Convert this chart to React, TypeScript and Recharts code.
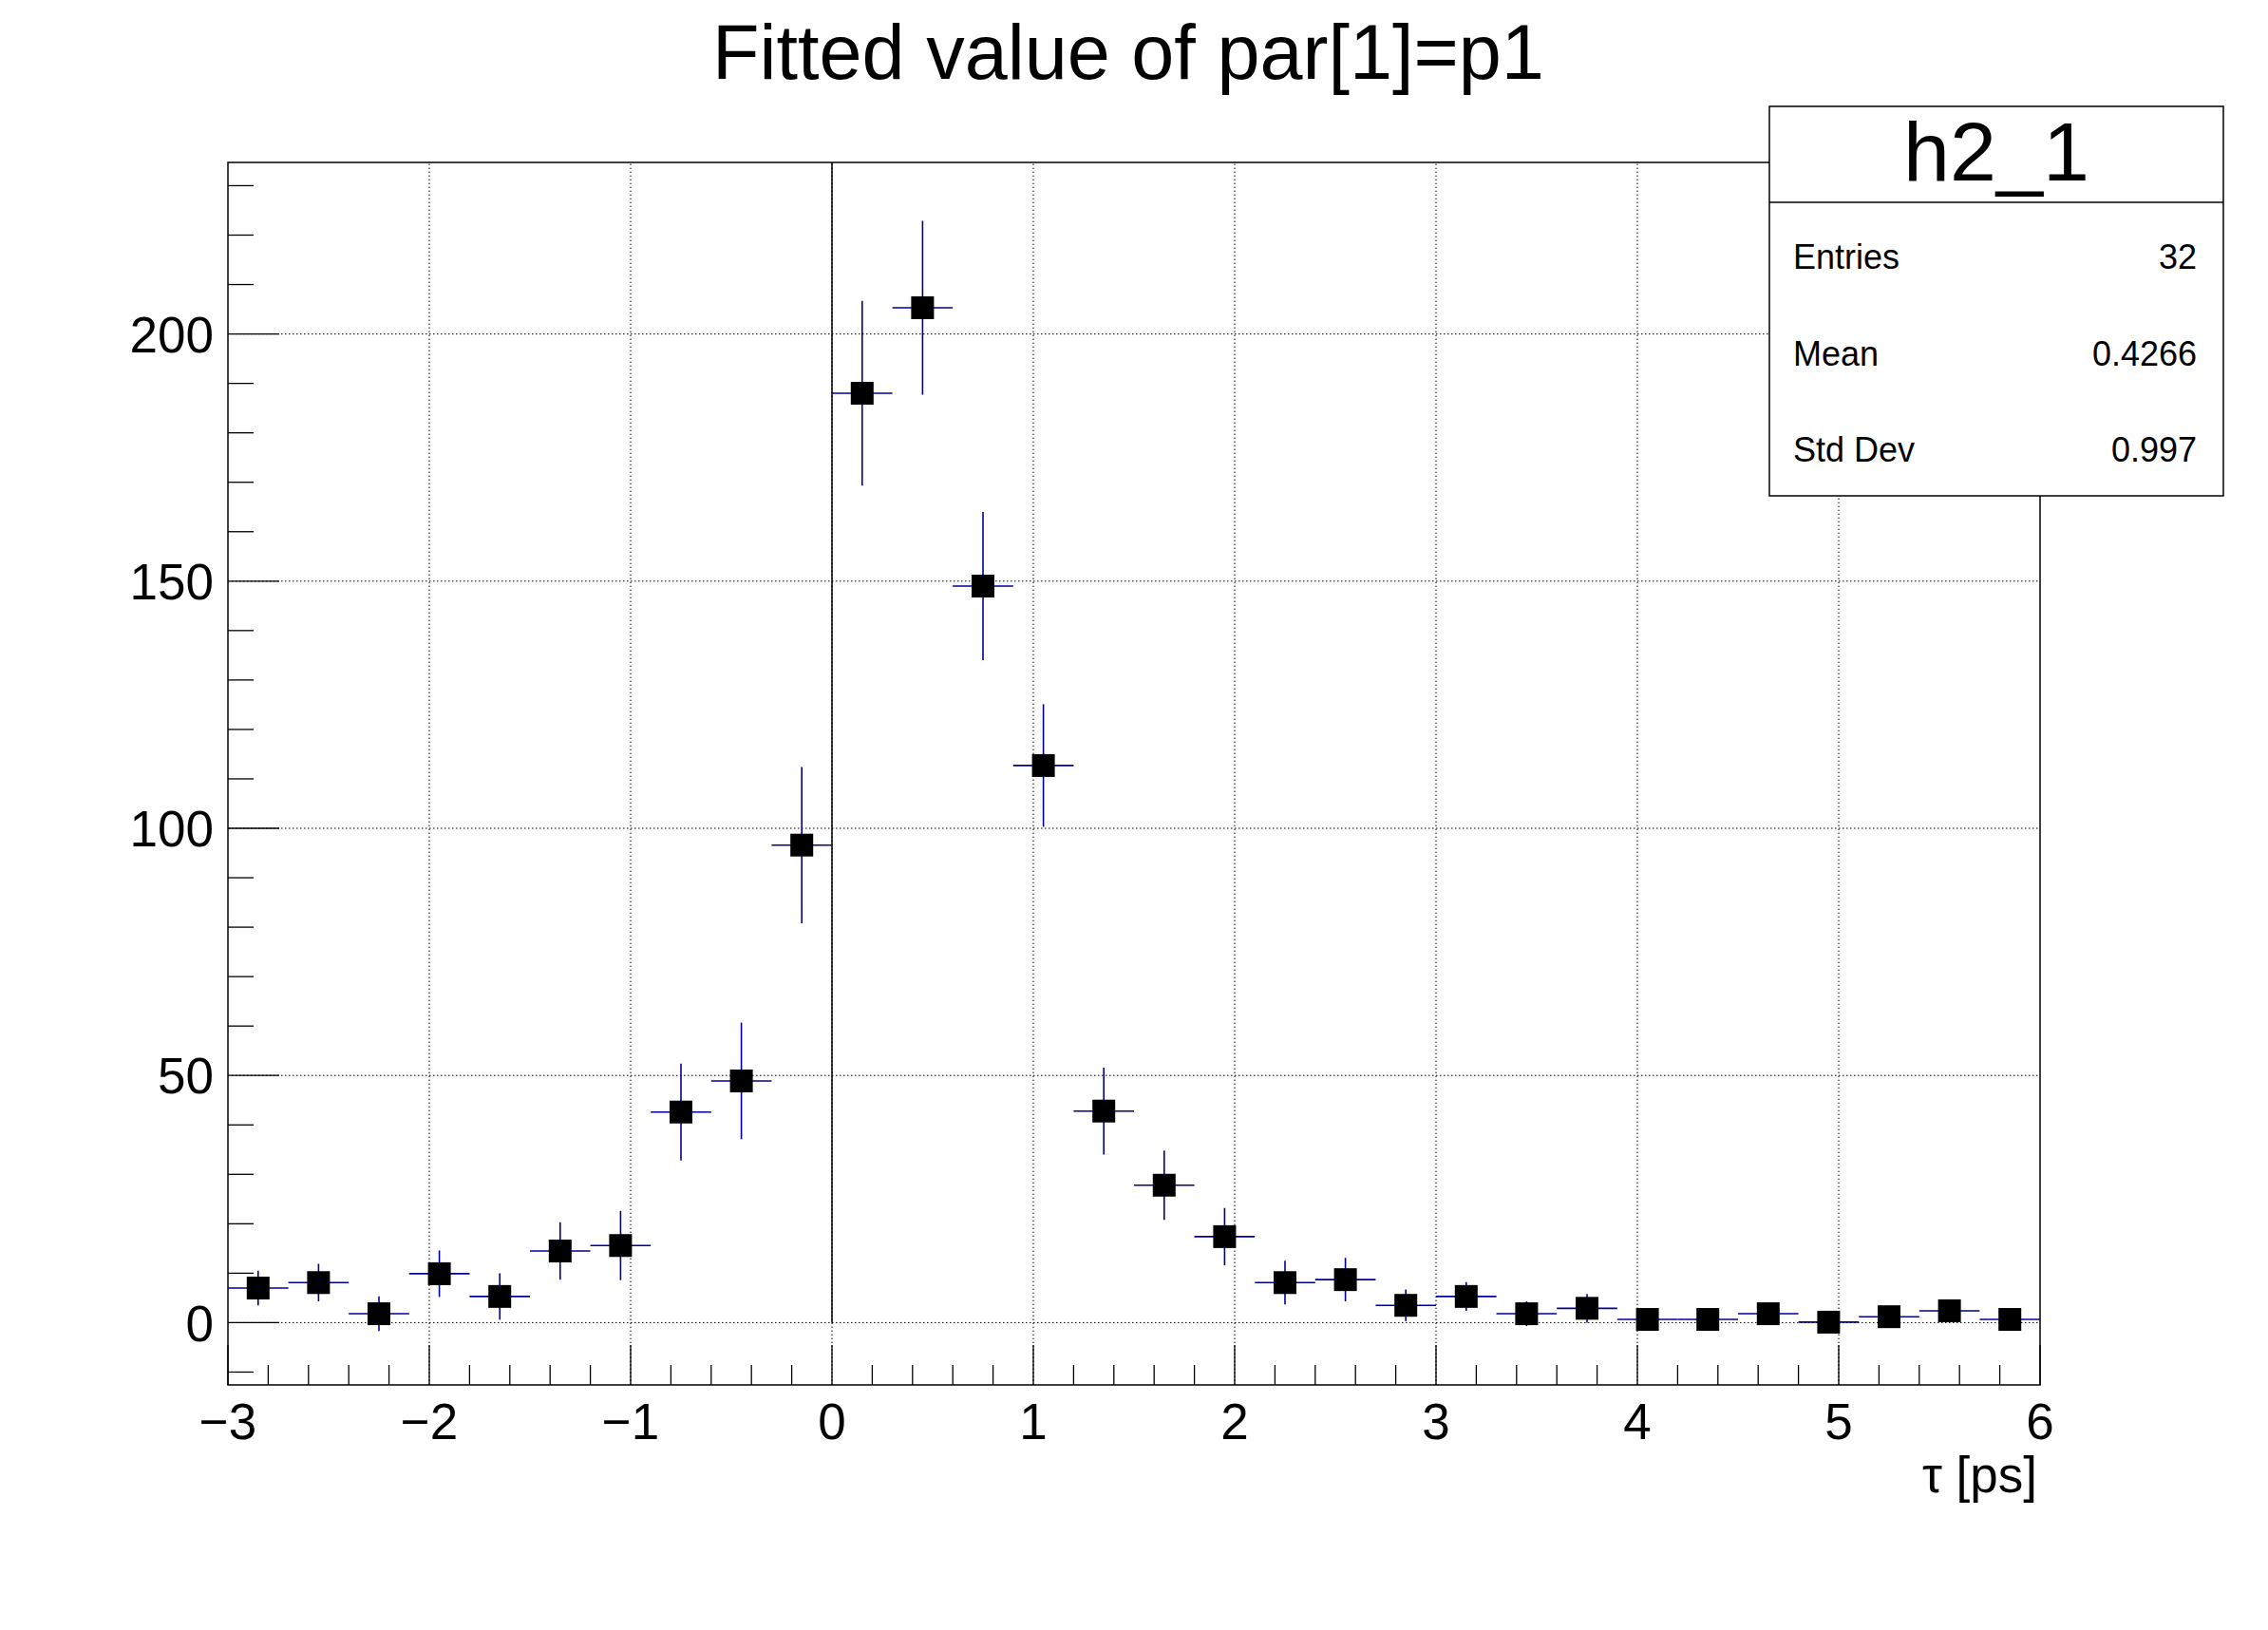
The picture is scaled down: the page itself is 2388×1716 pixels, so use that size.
import React from "react";
import {
  ComposedChart,
  Scatter,
  ErrorBar,
  XAxis,
  YAxis,
  ReferenceLine,
  ReferenceArea,
} from "recharts";

// histogram h2_1: 30 bins of 0.3 ps from -3 to 6
const binCenters = [
  -2.85, -2.55, -2.25, -1.95, -1.65, -1.35, -1.05, -0.75, -0.45, -0.15,
  0.15, 0.45, 0.75, 1.05, 1.35, 1.65, 1.95, 2.25, 2.55, 2.85,
  3.15, 3.45, 3.75, 4.05, 4.35, 4.65, 4.95, 5.25, 5.55, 5.85,
];
const binWidth = 0.3;
const counts = [
  7.0, 8.1, 1.8, 9.9, 5.3, 14.5, 15.6, 42.6, 48.9, 96.6,
  188.0, 205.3, 149.0, 112.7, 42.8, 27.8, 17.4, 8.1, 8.7, 3.5,
  5.3, 1.8, 2.9, 0.65, 0.65, 1.8, 0.1, 1.2, 2.4, 0.65,
];
const countErrors = [
  3.5, 3.8, 3.5, 4.7, 4.7, 5.8, 7.0, 9.8, 11.8, 15.8,
  18.7, 17.6, 15.0, 12.4, 8.8, 7.0, 5.8, 4.4, 4.4, 3.2,
  2.9, 2.5, 2.9, 1.0, 1.0, 1.5, 0.5, 1.0, 1.5, 1.0,
];

const xMajorTicks = [-3, -2, -1, 0, 1, 2, 3, 4, 5, 6];
const yMajorTicks = [0, 50, 100, 150, 200];
const xMinorStep = 0.2;
const yMinorStep = 10;
const xDomain: [number, number] = [-3, 6];
const yDomain: [number, number] = [-12.6, 234.7];

const statsTitle = "h2_1";
const statsLabels = ["Entries", "Mean", "Std Dev"];
const statsValues = ["32", "0.4266", "0.997"];

const title = "Fitted value of par[1]=p1";
const xTitle = "\u03c4 [ps]";

const FONT = "'Liberation Sans', Arial, Helvetica, sans-serif";
const ERR_COLOR = "#000099";

const data = binCenters.map((x, i) => ({
  x,
  y: counts[i],
  yerr: countErrors[i],
  xerr: binWidth / 2,
}));

// minor tick positions between the domain ends
const buildTicks = (lo: number, hi: number, step: number) => {
  const out: number[] = [];
  for (let v = lo; v <= hi + 1e-9; v += step) out.push(Math.round(v * 100) / 100);
  return out;
};
const xTicks = buildTicks(-3, 6, xMinorStep);
const yTicks = buildTicks(-10, 230, yMinorStep);

const fmt = (v: number) => (v < 0 ? "\u2212" + Math.abs(v) : String(v));
const isMajorX = (v: number) => xMajorTicks.some((t) => Math.abs(t - v) < 1e-6);
const isMajorY = (v: number) => yMajorTicks.some((t) => Math.abs(t - v) < 1e-6);

const XTick = (props: any) => {
  const { x, y, payload } = props;
  const major = isMajorX(payload.value);
  return (
    <g>
      <line x1={x} x2={x} y1={y} y2={y - (major ? 42 : 21)} stroke="#000" strokeWidth={1.3} />
      {major && (
        <text x={x} y={y + 57} textAnchor="middle" fontSize={53} fontFamily={FONT} fill="#000">
          {fmt(payload.value)}
        </text>
      )}
    </g>
  );
};

const YTick = (props: any) => {
  const { x, y, payload } = props;
  const major = isMajorY(payload.value);
  return (
    <g>
      <line x1={x} x2={x + (major ? 54 : 27)} y1={y} y2={y} stroke="#000" strokeWidth={1.3} />
      {major && (
        <text x={x - 15} y={y} dy="0.36em" textAnchor="end" fontSize={53} fontFamily={FONT} fill="#000">
          {fmt(payload.value)}
        </text>
      )}
    </g>
  );
};

const Square = (props: any) => {
  const { cx, cy } = props;
  return <rect x={cx - 12} y={cy - 12} width={24} height={24} fill="#000" />;
};

const App = () => {
  return (
    <div style={{ position: "absolute", left: 0, top: 0, width: 2388, height: 1716, background: "#fff" }}>
      <ComposedChart
        width={2388}
        height={1716}
        data={data}
        margin={{ top: 171, right: 240, bottom: 0, left: 0 }}
      >
        <XAxis
          type="number"
          dataKey="x"
          domain={xDomain}
          allowDataOverflow
          ticks={xTicks}
          interval={0}
          tickSize={0}
          tickMargin={0}
          axisLine={false}
          tickLine={false}
          tick={<XTick />}
          height={258}
        />
        <YAxis
          type="number"
          dataKey="y"
          domain={yDomain}
          allowDataOverflow
          ticks={yTicks}
          interval={0}
          tickSize={0}
          tickMargin={0}
          axisLine={false}
          tickLine={false}
          tick={<YTick />}
          width={240}
        />

        {/* dotted grid at major ticks */}
        {xMajorTicks.slice(1, -1).map((v) => (
          <ReferenceLine key={"gx" + v} x={v} stroke="#000" strokeWidth={1} strokeDasharray="1.5 2.5" />
        ))}
        {yMajorTicks.map((v) => (
          <ReferenceLine key={"gy" + v} y={v} stroke="#000" strokeWidth={1} strokeDasharray="1.5 2.5" />
        ))}
        <ReferenceLine
          segment={[
            { x: 0, y: 0 },
            { x: 0, y: yDomain[1] },
          ]}
          stroke="#000"
          strokeWidth={1.5}
        />
        <ReferenceArea
          x1={xDomain[0]}
          x2={xDomain[1]}
          y1={yDomain[0]}
          y2={yDomain[1]}
          fill="none"
          fillOpacity={0}
          stroke="#000"
          strokeWidth={1.5}
          ifOverflow="visible"
        />

        <Scatter dataKey="y" shape={<Square />} isAnimationActive={false}>
          <ErrorBar dataKey="yerr" direction="y" width={0} stroke={ERR_COLOR} strokeWidth={1.6} />
          <ErrorBar dataKey="xerr" direction="x" width={0} stroke={ERR_COLOR} strokeWidth={1.6} />
        </Scatter>
      </ComposedChart>

      <svg
        width={2388}
        height={1716}
        style={{ position: "absolute", left: 0, top: 0, pointerEvents: "none" }}
      >
        <text x={1188} y={83} textAnchor="middle" fontSize={81} fontFamily={FONT} fill="#000">
          {title}
        </text>
        <text x={2145} y={1571} textAnchor="end" fontSize={53} fontFamily={FONT} fill="#000">
          {xTitle}
        </text>

        {/* stats box */}
        <rect x={1863} y={112} width={478} height={410} fill="#fff" stroke="#000" strokeWidth={1.5} />
        <line x1={1863} x2={2341} y1={213} y2={213} stroke="#000" strokeWidth={1.5} />
        <text x={2102} y={190} textAnchor="middle" fontSize={88} fontFamily={FONT} fill="#000">
          {statsTitle}
        </text>
        {statsLabels.map((label, i) => (
          <g key={label}>
            <text x={1888} y={283 + i * 101.5} fontSize={36} fontFamily={FONT} fill="#000">
              {label}
            </text>
            <text x={2313} y={283 + i * 101.5} textAnchor="end" fontSize={36} fontFamily={FONT} fill="#000">
              {statsValues[i]}
            </text>
          </g>
        ))}
      </svg>
    </div>
  );
};

export default App;
